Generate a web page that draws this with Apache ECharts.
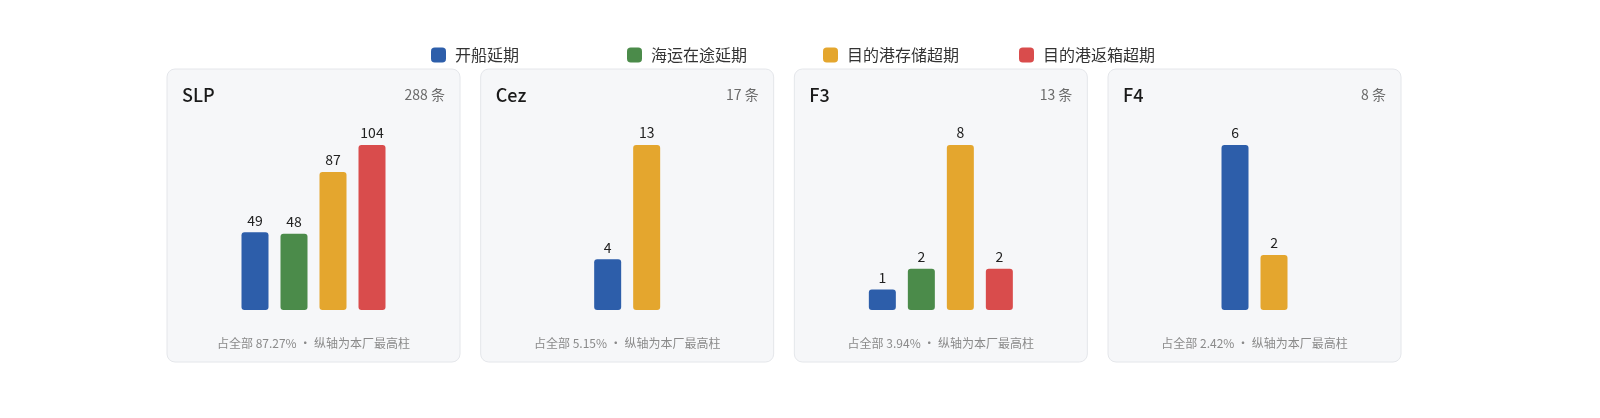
<!DOCTYPE html>
<html>
<head>
<meta charset="utf-8">
<script src="https://cdn.jsdelivr.net/npm/echarts@6/dist/echarts.min.js"></script>
<style>
html,body{margin:0;padding:0;background:#fff;}
#chart{width:1600px;height:418px;}
</style>
</head>
<body>
<div id="chart"></div>
<script>
// ---- data ----
const plants = ['SLP', 'Cez', 'F3', 'F4'];
const totals = [288, 17, 13, 8];
const shares = ['87.27%', '5.15%', '3.94%', '2.42%'];
const types = ['开船延期', '海运在途延期', '目的港存储超期', '目的港返箱超期'];
const startDelay = [49, 4, 1, 6];
const seaDelay = [48, 0, 2, 0];
const storageOver = [87, 13, 8, 2];
const returnOver = [104, 0, 2, 0];
const typeColors = ['#2d5eaa', '#4b8b4a', '#e4a62e', '#d94c4c'];

// ---- layout ----
const FONT = '"Noto Sans CJK SC","Noto Sans",sans-serif';
const cardW = 293, cardH = 293, cardTop = 69, cardLeft0 = 167, cardPitch = 313.67;
const barW = 27, band = 39;
const plotTop = 145, plotH = 165;
const legendLefts = [431, 627, 823, 1019];

const seriesByType = [startDelay, seaDelay, storageOver, returnOver];

const grids = [], xAxes = [], yAxes = [], series = [], graphics = [];

plants.forEach((p, i) => {
  const left = cardLeft0 + i * cardPitch;
  const cx = left + cardW / 2;
  const cats = [], items = [];
  seriesByType.forEach((arr, t) => {
    if (arr[i] > 0) {
      cats.push(types[t]);
      items.push({ value: arr[i], itemStyle: { color: typeColors[t] } });
    }
  });
  const maxV = Math.max(...items.map(d => d.value));
  const gw = cats.length * band;
  grids.push({ left: cx - gw / 2, width: gw, top: plotTop, height: plotH });
  xAxes.push({ type: 'category', gridIndex: i, data: cats, show: false });
  yAxes.push({ type: 'value', gridIndex: i, min: 0, max: maxV, show: false, splitLine: { show: false } });
  series.push({
    type: 'bar', xAxisIndex: i, yAxisIndex: i, data: items, barWidth: barW,
    itemStyle: { borderRadius: 3 },
    label: { show: true, position: 'top', distance: 5, fontSize: 14, color: '#222', fontFamily: FONT },
    silent: true
  });
  graphics.push({
    type: 'rect', z: 0, silent: true,
    shape: { x: left, y: cardTop, width: cardW, height: cardH, r: 8 },
    style: { fill: '#f6f7f9', stroke: '#e4e6ea', lineWidth: 1 }
  });
  graphics.push({
    type: 'text', z: 1, silent: true,
    style: { text: p, x: left + 15, y: cardTop + 26, font: '500 18px ' + FONT, fill: '#1a1a1a', textAlign: 'left', textVerticalAlign: 'middle' }
  });
  graphics.push({
    type: 'text', z: 1, silent: true,
    style: { text: totals[i] + ' 条', x: left + cardW - 15, y: cardTop + 26, font: '14px ' + FONT, fill: '#6b6b6b', textAlign: 'right', textVerticalAlign: 'middle' }
  });
  graphics.push({
    type: 'text', z: 1, silent: true,
    style: { text: '占全部 ' + shares[i] + ' · 纵轴为本厂最高柱', x: cx, y: cardTop + 274, font: '12px ' + FONT, fill: '#8a8a8a', textAlign: 'center', textVerticalAlign: 'middle' }
  });
});

// dummy series for legend entries
types.forEach((t, k) => {
  series.push({ type: 'scatter', name: t, xAxisIndex: 0, yAxisIndex: 0, data: [], itemStyle: { color: typeColors[k], opacity: 1 } });
});

const legends = types.map((t, k) => ({
  data: [t], left: legendLefts[k], top: 47, padding: 0, icon: 'roundRect', itemWidth: 15, itemHeight: 15,
  selectedMode: false,
  itemStyle: { opacity: 1 },
  textStyle: { fontSize: 16, color: '#333', fontFamily: FONT, padding: [0, 0, 0, 4] }
}));

const chart = echarts.init(document.getElementById('chart'));
chart.setOption({
  animation: false,
  textStyle: { fontFamily: FONT },
  legend: legends,
  grid: grids,
  xAxis: xAxes,
  yAxis: yAxes,
  series: series,
  graphic: graphics
});
</script>
</body>
</html>
